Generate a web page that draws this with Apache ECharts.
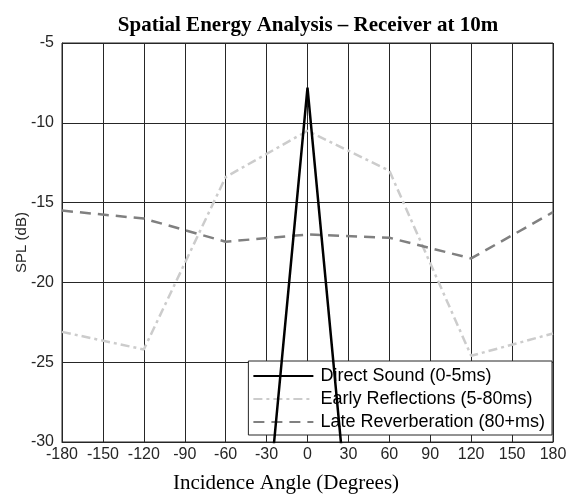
<!DOCTYPE html>
<html>
<head>
<meta charset="utf-8">
<script src="https://cdn.jsdelivr.net/npm/echarts@6/dist/echarts.min.js"></script>
<style>
  html, body { margin: 0; padding: 0; background: #fff; }
  #chart { width: 566px; height: 498px; }
</style>
</head>
<body>
<div id="chart"></div>
<script>
// angles in degrees
var xTicks = [-180, -150, -120, -90, -60, -30, 0, 30, 60, 90, 120, 150, 180]
var yTicks = [-30, -25, -20, -15, -10, -5]

var directAngles = [-30, 0, 30]
var directSPL = [-35, -7.8, -35]

var reflAngles = [-180, -120, -60, 0, 60, 120, 180]
var earlySPL = [-23.1, -24.2, -13.4, -10.5, -13.0, -24.6, -23.2]
var lateSPL = [-15.5, -16.0, -17.45, -17.0, -17.2, -18.5, -15.6]

function pairs(xs, ys) {
  return xs.map(function(x, i) { return [x, ys[i]] })
}

var chart = echarts.init(document.getElementById('chart'))
var gridColor = '#262626'
var sans = 'Liberation Sans'
var serif = 'Liberation Serif'

chart.setOption({
  animation: false,
  title: [
    {
      text: 'Spatial Energy Analysis \u2013 Receiver at 10m',
      left: 303,
      top: 10,
      textAlign: 'center',
      textStyle: { fontFamily: serif, fontWeight: 'bold', fontSize: 21, color: '#000' }
    },
    {
      text: 'Incidence Angle (Degrees)',
      left: 281,
      top: 468,
      textAlign: 'center',
      textStyle: { fontFamily: serif, fontWeight: 'normal', fontSize: 21, color: '#000' }
    }
  ],
  grid: {
    left: 62, right: 13, top: 43, bottom: 56,
    outerBoundsMode: 'none', containLabel: false,
    show: true, borderColor: gridColor, borderWidth: 1
  },
  legend: {
    orient: 'vertical',
    right: 14,
    bottom: 63,
    backgroundColor: '#fff',
    borderColor: gridColor,
    borderWidth: 1,
    padding: [6, 7, 4, 4],
    itemWidth: 60,
    itemHeight: 12,
    itemGap: 5,
    itemStyle: { opacity: 0 },
    textStyle: { fontFamily: sans, fontSize: 18, color: '#000', padding: [0, 0, 0, 2] },
    data: ['Direct Sound (0-5ms)', 'Early Reflections (5-80ms)', 'Late Reverberation (80+ms)']
  },
  xAxis: {
    type: 'value',
    min: -180,
    max: 180,
    interval: 30,
    axisLine: { show: true, onZero: false, lineStyle: { color: gridColor } },
    axisTick: { show: true, inside: true, length: 4, lineStyle: { color: gridColor } },
    axisLabel: { fontFamily: sans, fontSize: 16, color: '#262626', margin: 5 },
    splitLine: { show: true, lineStyle: { color: gridColor, width: 1 } }
  },
  yAxis: {
    type: 'value',
    min: -30,
    max: -5,
    interval: 5,
    name: 'SPL (dB)',
    nameLocation: 'middle',
    nameGap: 33,
    nameMoveOverlap: false,
    nameTextStyle: { fontFamily: sans, fontSize: 15, color: '#262626' },
    axisLine: { show: true, onZero: false, lineStyle: { color: gridColor } },
    axisTick: { show: true, inside: true, length: 4, lineStyle: { color: gridColor } },
    axisLabel: { fontFamily: sans, fontSize: 16, color: '#262626', margin: 8 },
    splitLine: { show: true, lineStyle: { color: gridColor, width: 1 } }
  },
  series: [
    {
      name: 'Direct Sound (0-5ms)',
      type: 'line',
      symbol: 'none',
      clip: true,
      data: pairs(directAngles, directSPL),
      lineStyle: { color: '#000', width: 2.5 },
      itemStyle: { color: '#000' },
      z: 4
    },
    {
      name: 'Early Reflections (5-80ms)',
      type: 'line',
      symbol: 'none',
      data: pairs(reflAngles, earlySPL),
      lineStyle: { color: '#cccccc', width: 2.5, type: [9, 4, 3, 4] },
      itemStyle: { color: '#cccccc' },
      z: 3
    },
    {
      name: 'Late Reverberation (80+ms)',
      type: 'line',
      symbol: 'none',
      data: pairs(reflAngles, lateSPL),
      lineStyle: { color: '#808080', width: 2.5, type: [11, 7] },
      itemStyle: { color: '#808080' },
      z: 3
    }
  ]
})
</script>
</body>
</html>
